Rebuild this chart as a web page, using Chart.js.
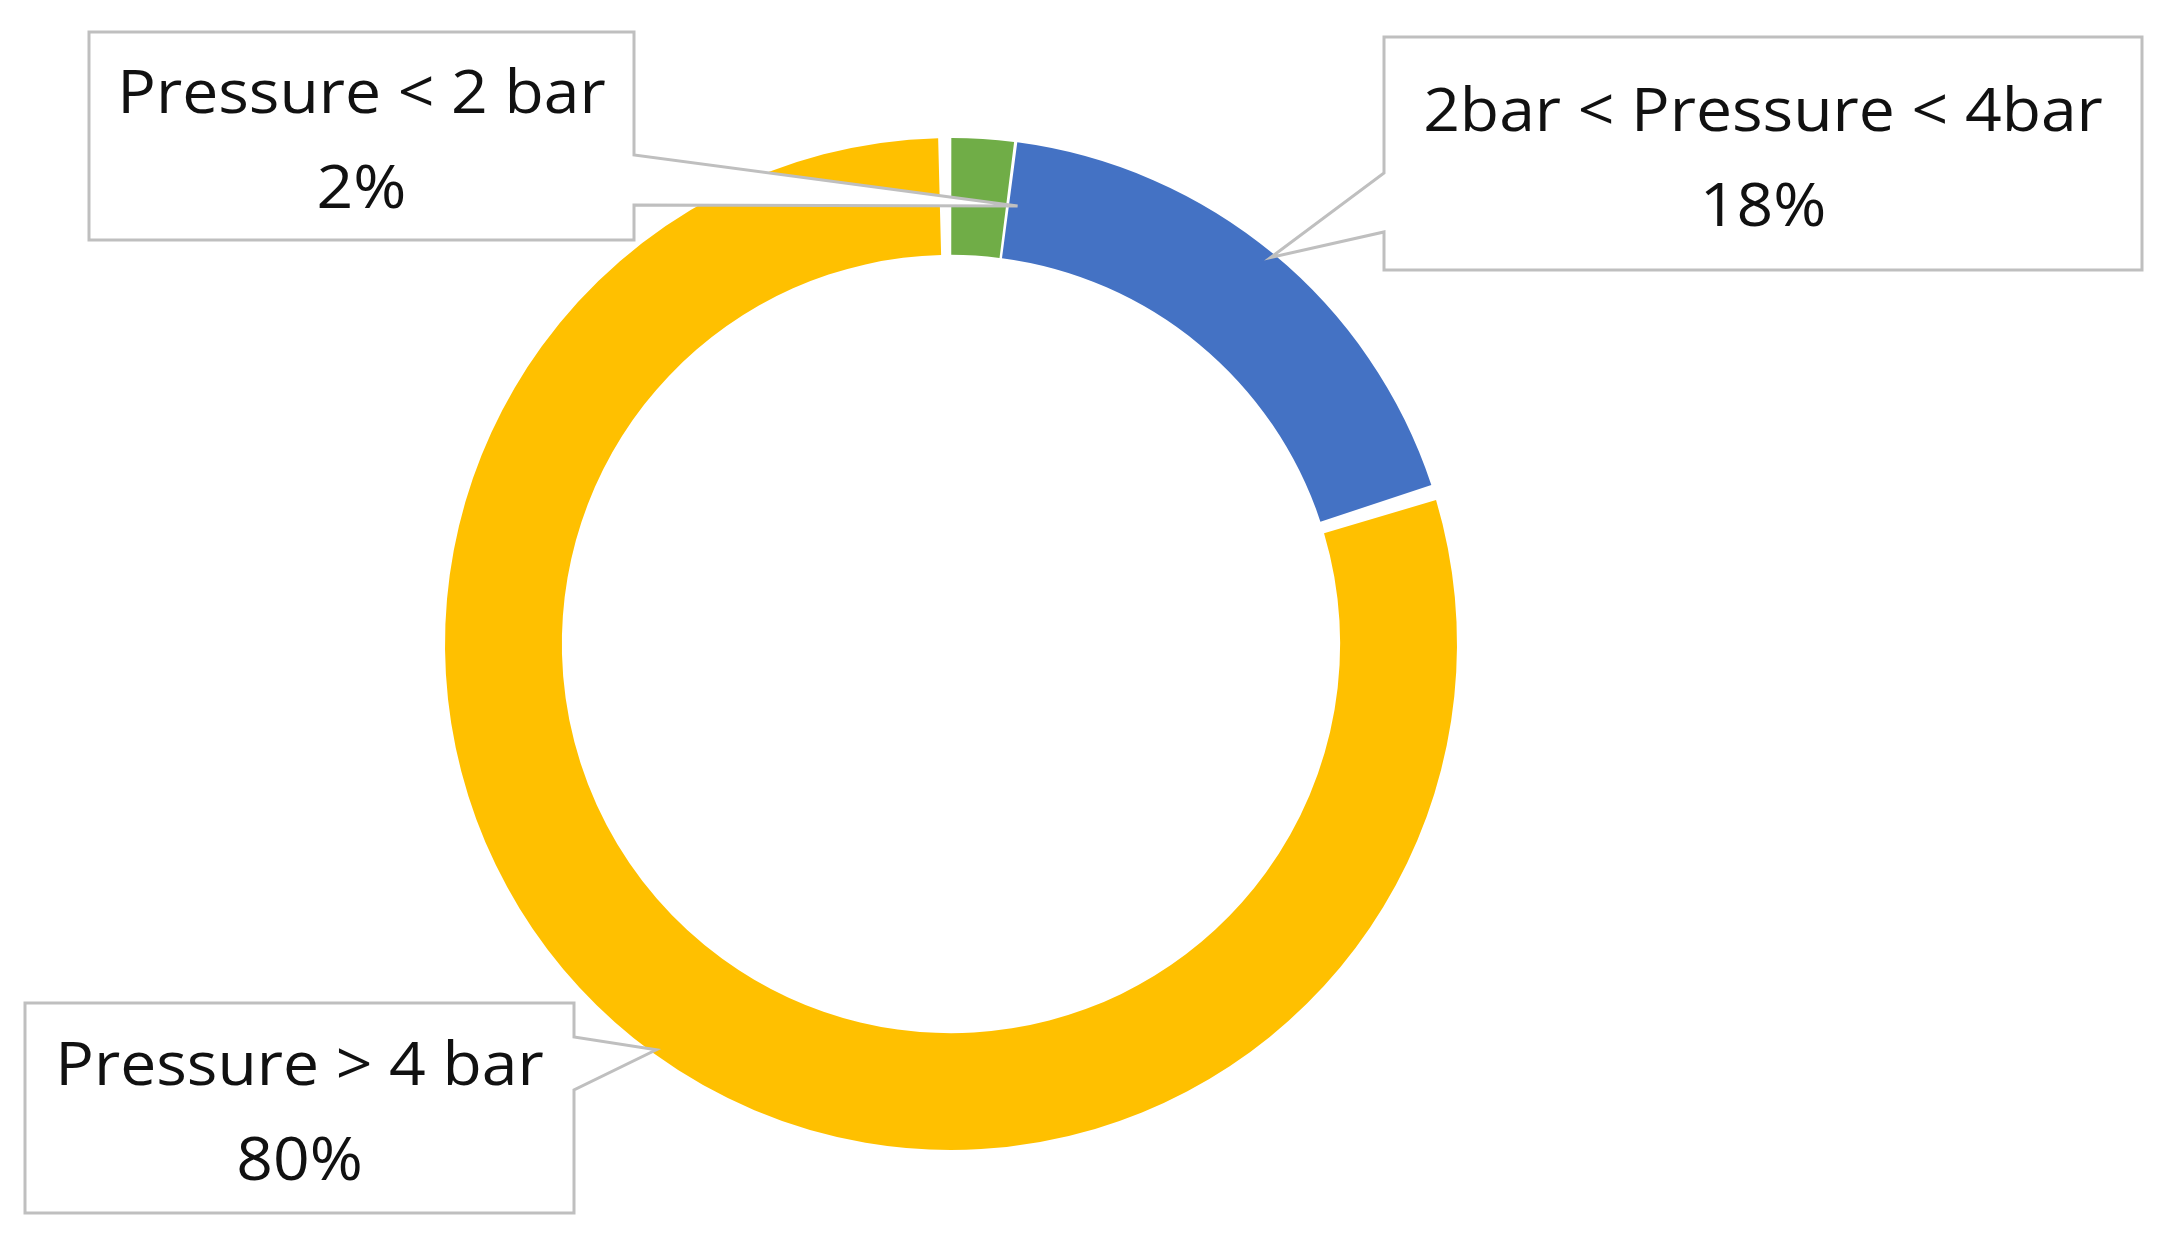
<!DOCTYPE html>
<html>
<head>
<meta charset="utf-8">
<title>Pressure distribution</title>
<script src="https://cdn.jsdelivr.net/npm/chart.js@4/dist/chart.umd.min.js"></script>
<style>
  html, body { margin: 0; padding: 0; background: #fff; }
  #wrap { width: 2177px; height: 1240px; }
</style>
</head>
<body>
<div id="wrap"><canvas id="pressureChart" width="2177" height="1240"></canvas></div>
<script>
// data
const categories = ['Pressure < 2 bar', '2bar < Pressure < 4bar', 'Pressure > 4 bar'];
const shares = [2, 18, 80];
const sliceColors = ['#70AD47', '#4472C4', '#FFC000'];

// callout boxes (layout only): box rect, where the pointer leaves the box, and where it lands on the slice
const callouts = [
  { x: 89, y: 32, w: 545, h: 208, side: 'right', gap: [123, 173], along: 1.2, depth: 0.5 },
  { x: 1384, y: 37, w: 758, h: 233, side: 'left', gap: [136, 195], along: 0.5, depth: 1.0 },
  { x: 25, y: 1003, w: 549, h: 210, side: 'right', gap: [34, 87], along: 0.5, depth: 1.0 }
];

const calloutPlugin = {
  id: 'callouts',
  afterDatasetsDraw(chart) {
    const ctx = chart.ctx;
    const meta = chart.getDatasetMeta(0);
    meta.data.forEach((arc, i) => {
      const c = callouts[i];
      const p = arc.getProps(['x', 'y', 'startAngle', 'endAngle', 'innerRadius', 'outerRadius'], true);
      const a = p.startAngle + c.along * (p.endAngle - p.startAngle);
      const r = p.innerRadius + c.depth * (p.outerRadius - p.innerRadius);
      const tx = p.x + Math.cos(a) * r;
      const ty = p.y + Math.sin(a) * r;

      ctx.save();
      ctx.beginPath();
      if (c.side === 'right') {
        ctx.moveTo(c.x, c.y);
        ctx.lineTo(c.x + c.w, c.y);
        ctx.lineTo(c.x + c.w, c.y + c.gap[0]);
        ctx.lineTo(tx, ty);
        ctx.lineTo(c.x + c.w, c.y + c.gap[1]);
        ctx.lineTo(c.x + c.w, c.y + c.h);
        ctx.lineTo(c.x, c.y + c.h);
      } else {
        ctx.moveTo(c.x, c.y);
        ctx.lineTo(c.x + c.w, c.y);
        ctx.lineTo(c.x + c.w, c.y + c.h);
        ctx.lineTo(c.x, c.y + c.h);
        ctx.lineTo(c.x, c.y + c.gap[1]);
        ctx.lineTo(tx, ty);
        ctx.lineTo(c.x, c.y + c.gap[0]);
      }
      ctx.closePath();
      ctx.fillStyle = '#ffffff';
      ctx.fill();
      ctx.lineWidth = 3;
      ctx.strokeStyle = '#BFBFBF';
      ctx.stroke();

      // text is a touch wider than Open Sans in the original, stretch it slightly
      const cx = c.x + c.w / 2;
      const cy = c.y + c.h / 2;
      ctx.translate(cx, cy);
      ctx.scale(1.07, 1);
      ctx.fillStyle = '#111111';
      ctx.font = '60px "Open Sans", sans-serif';
      ctx.textAlign = 'center';
      ctx.textBaseline = 'alphabetic';
      ctx.fillText(categories[i], 0, -23);
      ctx.fillText(shares[i] + '%', 0, 72);
      ctx.restore();
    });
  }
};

new Chart(document.getElementById('pressureChart'), {
  type: 'doughnut',
  data: {
    labels: categories,
    datasets: [{
      data: shares,
      backgroundColor: sliceColors,
      borderWidth: 0,
      spacing: 9
    }]
  },
  options: {
    responsive: false,
    animation: false,
    cutout: '76.7%',
    layout: { padding: { top: 138, bottom: 90, left: 0, right: 275 } },
    plugins: {
      legend: { display: false },
      tooltip: { enabled: false }
    }
  },
  plugins: [calloutPlugin]
});
</script>
</body>
</html>
